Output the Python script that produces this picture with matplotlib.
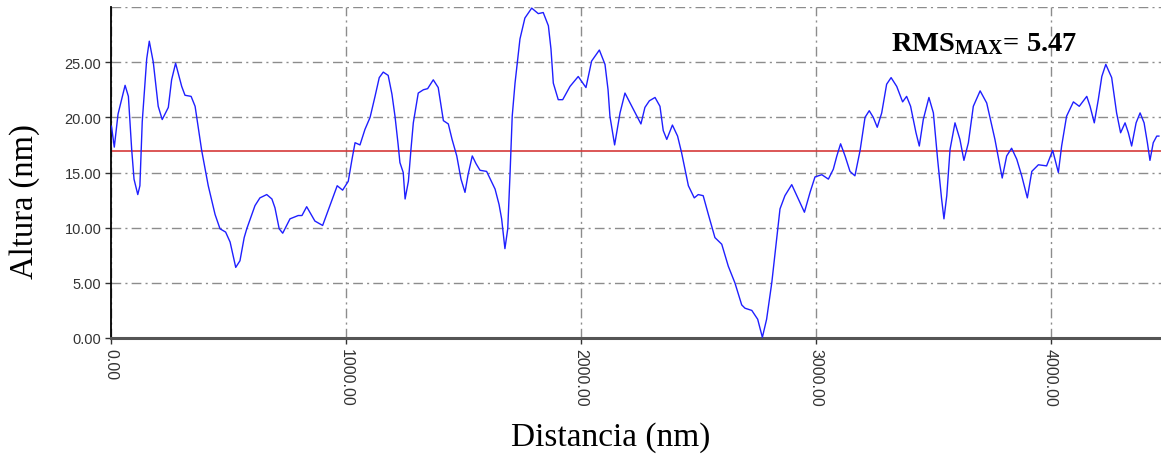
import numpy as np
import matplotlib.pyplot as plt

# profile: distance (nm) and height (nm)
dist = [2, 14, 30, 60, 74, 88, 98, 114, 123, 133, 152, 163, 180, 201, 218, 244, 258, 275, 301, 315,
        341, 358, 386, 414, 443, 464, 488, 507, 531, 549, 567, 578, 613, 634, 663, 685, 698, 716, 731, 762,
        797, 813, 833, 868, 901, 932, 963, 986, 1010, 1026, 1039, 1060, 1081, 1103, 1124, 1142, 1159, 1180, 1196, 1209,
        1222, 1230, 1244, 1252, 1266, 1277, 1287, 1308, 1330, 1348, 1372, 1393, 1415, 1436, 1452, 1472, 1490, 1507, 1520, 1538,
        1554, 1571, 1599, 1635, 1652, 1663, 1677, 1689, 1699, 1708, 1720, 1741, 1762, 1791, 1819, 1840, 1862, 1873, 1883, 1904,
        1923, 1954, 1989, 2022, 2046, 2079, 2103, 2116, 2124, 2144, 2167, 2188, 2217, 2256, 2273, 2292, 2316, 2337, 2351, 2366,
        2390, 2412, 2429, 2458, 2483, 2500, 2521, 2543, 2571, 2600, 2628, 2656, 2685, 2699, 2728, 2753, 2773, 2791, 2813, 2834,
        2848, 2869, 2898, 2926, 2952, 2976, 2997, 3026, 3054, 3075, 3090, 3106, 3125, 3146, 3167, 3189, 3210, 3228, 3245, 3262,
        3281, 3302, 3321, 3345, 3370, 3387, 3404, 3427, 3441, 3458, 3482, 3501, 3519, 3536, 3546, 3558, 3572, 3593, 3614, 3631,
        3650, 3671, 3700, 3728, 3763, 3794, 3813, 3834, 3856, 3877, 3901, 3920, 3948, 3983, 4009, 4033, 4047, 4068, 4097, 4122,
        4154, 4168, 4186, 4203, 4218, 4235, 4260, 4281, 4298, 4317, 4331, 4345, 4364, 4381, 4398, 4412, 4423, 4437, 4452, 4461]
height = [19.2, 17.3, 20.3, 22.9, 21.9, 17.1, 14.4, 13.0, 13.8, 19.6, 25.3, 26.9, 25.0, 21.0, 19.8, 20.9, 23.4, 24.9, 22.8, 22.0,
          21.9, 21.0, 17.0, 13.8, 11.2, 9.9, 9.6, 8.7, 6.4, 7.0, 9.1, 9.9, 12.0, 12.7, 13.0, 12.6, 11.8, 9.9, 9.5, 10.8,
          11.1, 11.1, 11.9, 10.6, 10.2, 12.0, 13.8, 13.4, 14.2, 16.2, 17.7, 17.5, 18.9, 20.0, 21.9, 23.6, 24.1, 23.8, 22.1, 20.1,
          17.6, 15.9, 15.0, 12.6, 14.2, 17.1, 19.5, 22.2, 22.5, 22.6, 23.4, 22.7, 19.7, 19.4, 18.0, 16.5, 14.4, 13.2, 14.8, 16.5,
          15.8, 15.2, 15.1, 13.5, 12.1, 10.8, 8.1, 9.9, 15.0, 20.1, 23.1, 27.1, 29.0, 29.9, 29.4, 29.5, 28.3, 26.2, 23.1, 21.6,
          21.6, 22.8, 23.7, 22.7, 25.1, 26.1, 24.8, 22.5, 20.1, 17.5, 20.4, 22.2, 21.0, 19.4, 20.9, 21.5, 21.8, 21.0, 18.8, 18.0,
          19.3, 18.3, 16.8, 13.8, 12.7, 13.0, 12.9, 11.2, 9.1, 8.5, 6.5, 5.0, 3.0, 2.7, 2.5, 1.7, 0.06, 1.7, 5.0, 9.0,
          11.7, 12.9, 13.9, 12.6, 11.4, 13.2, 14.6, 14.8, 14.4, 15.3, 16.5, 17.6, 16.5, 15.1, 14.7, 17.0, 20.0, 20.6, 20.0, 19.1,
          20.4, 23.0, 23.6, 22.8, 21.4, 21.9, 21.0, 18.6, 17.4, 19.8, 21.8, 20.4, 16.2, 12.6, 10.8, 12.9, 17.1, 19.5, 18.0, 16.1,
          17.7, 21.0, 22.4, 21.3, 18.0, 14.5, 16.5, 17.2, 16.2, 14.7, 12.7, 15.1, 15.7, 15.6, 17.0, 15.0, 17.4, 20.1, 21.4, 21.0,
          21.9, 21.0, 19.5, 21.6, 23.7, 24.8, 23.6, 20.4, 18.6, 19.5, 18.6, 17.4, 19.5, 20.4, 19.5, 17.7, 16.1, 17.7, 18.3, 18.3]
mean_height = 16.95
rms_max = 5.47

xticks = [0, 1000, 2000, 3000, 4000]
yticks = [0, 5, 10, 15, 20, 25, 30]

plt.rcParams['mathtext.fontset'] = 'custom'
plt.rcParams['mathtext.bf'] = 'Liberation Serif:bold'
plt.rcParams['mathtext.rm'] = 'Liberation Serif'

fig = plt.figure(figsize=(11.61, 4.60), dpi=100)
ax = fig.add_axes([111 / 1161, 1 - 339 / 460, 1 - 111 / 1161, 331 / 460])

ax.plot(dist, height, color='#1f1fff', lw=1.0, zorder=3, solid_joinstyle='round')
ax.axhline(mean_height, color='#d63a3a', lw=1.2, zorder=2)

ax.set_xlim(0, 4470)
ax.set_ylim(0, 30)
ax.set_xticks(xticks)
ax.set_xticklabels(['%.2f' % v for v in xticks], rotation=-90, family='Liberation Sans',
                   fontsize=11.5, color='#333333')
ax.set_yticks(yticks)
ax.set_yticklabels(['%.2f' % v for v in yticks[:-1]] + [''], family='Liberation Sans',
                   fontsize=10.5, color='#333333')
ax.yaxis.get_major_ticks()[-1].tick1line.set_visible(False)
ax.tick_params(axis='both', direction='out', length=4, width=1, color='#333333', pad=3)

ax.grid(True, color='#8c8c8c', lw=1.0, linestyle=(0, (7, 3, 1.5, 3)), zorder=1)

for s in ['top', 'right']:
    ax.spines[s].set_visible(False)
ax.spines['left'].set_color('black')
ax.spines['left'].set_linewidth(1.3)
ax.spines['bottom'].set_color('#555555')
ax.spines['bottom'].set_linewidth(2.2)

fig.text(25 / 1161, 1 - 202 / 460, 'Altura (nm)', rotation=90, ha='center', va='center',
         family='Liberation Serif', fontsize=23.5)
fig.text(611 / 1161, 1 - 438 / 460, 'Distancia (nm)', ha='center', va='center',
         family='Liberation Serif', fontsize=24)
fig.text(891 / 1161, 1 - 51 / 460, r'$\mathbf{RMS_{MAX}}$= %.2f' % rms_max, ha='left', va='baseline',
         family='Liberation Serif', fontweight='bold', fontsize=20.5)

fig.savefig('out.png', dpi=100)
